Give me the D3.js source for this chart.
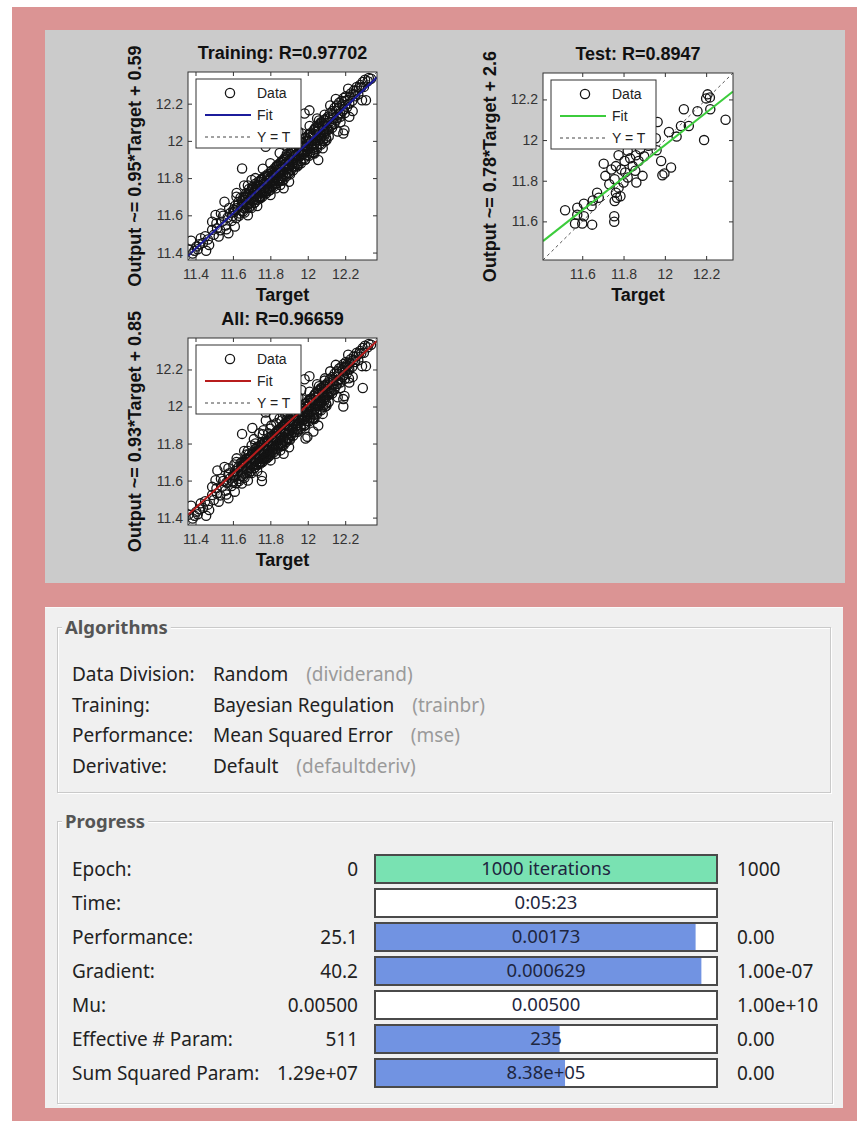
<!DOCTYPE html>
<html>
<head>
<meta charset="utf-8">
<script src="https://cdn.jsdelivr.net/npm/d3@7"></script>
<style>
  body { margin: 0; background: #fff; }
  .plot text { font-family: "Liberation Sans", Arial, sans-serif; }
  .ui text { font-family: "Noto Sans", "Open Sans", sans-serif; }
</style>
</head>
<body>
<div class="chart"></div>
<script>
// ---- regression plots ----
const plotTitles = ["Training: R=0.97702", "Test: R=0.8947", "All: R=0.96659"];
const yLabels = ["Output ~= 0.95*Target + 0.59", "Output ~= 0.78*Target + 2.6", "Output ~= 0.93*Target + 0.85"];
const xLabel = "Target";
const legendLabels = ["Data", "Fit", "Y = T"];
const fitColors = ["#1c1c9c", "#3ccc3c", "#b81c1c"];
const fitSlope = [0.95, 0.80, 0.93];
const fitIntercept = [0.59, 2.375, 0.85];
const axisLimits = [[11.36, 12.37], [11.41, 12.33], [11.36, 12.37]];
const xTicks = [[11.4, 11.6, 11.8, 12, 12.2], [11.6, 11.8, 12, 12.2], [11.4, 11.6, 11.8, 12, 12.2]];
const yTicks = [[11.4, 11.6, 11.8, 12, 12.2], [11.6, 11.8, 12, 12.2], [11.4, 11.6, 11.8, 12, 12.2]];

// [target, output]
const trainPoints = [
  [11.377,11.464],[11.362,11.415],[11.405,11.432],[11.457,11.410],[11.428,11.477],[11.489,11.522],
  [11.507,11.602],[11.489,11.566],[11.541,11.566],[11.555,11.673],[11.602,11.629],[11.576,11.504],
  [11.524,11.486],[11.610,11.540],[11.645,11.647],[11.649,11.852],[11.619,11.700],[11.385,11.395],
  [11.412,11.418],[11.440,11.452],[11.466,11.470],[11.473,11.441],[11.498,11.495],[11.515,11.530],
  [11.532,11.520],[11.548,11.598],[11.560,11.545],[11.572,11.588],[11.585,11.612],[11.593,11.570],
  [11.512,11.558],[11.536,11.610],[11.580,11.640],[11.565,11.525],[11.598,11.596],[11.452,11.488],
  [11.420,11.445],[11.395,11.410],
  [11.605,11.618],[11.612,11.652],[11.618,11.585],[11.624,11.640],[11.630,11.672],[11.636,11.610],
  [11.641,11.695],[11.645,11.625],[11.652,11.660],[11.657,11.700],[11.661,11.638],[11.668,11.682],
  [11.672,11.720],[11.676,11.655],[11.681,11.700],[11.686,11.742],[11.690,11.668],[11.694,11.716],
  [11.699,11.690],[11.703,11.752],[11.707,11.678],[11.712,11.728],[11.716,11.705],[11.720,11.770],
  [11.724,11.690],[11.729,11.742],[11.733,11.716],[11.737,11.782],[11.741,11.700],[11.746,11.756],
  [11.750,11.732],[11.754,11.796],[11.758,11.718],[11.763,11.770],[11.767,11.745],[11.771,11.810],
  [11.775,11.730],[11.780,11.785],[11.784,11.760],[11.788,11.822],[11.792,11.742],[11.797,11.800],
  [11.801,11.775],[11.805,11.838],[11.809,11.756],[11.814,11.815],[11.818,11.790],[11.822,11.852],
  [11.826,11.770],[11.831,11.830],[11.835,11.806],[11.839,11.868],[11.843,11.785],[11.848,11.846],
  [11.852,11.820],[11.856,11.882],[11.860,11.800],[11.865,11.862],[11.869,11.836],[11.873,11.898],
  [11.877,11.815],[11.882,11.876],[11.886,11.850],[11.890,11.912],[11.894,11.830],[11.899,11.892],
  [11.903,11.866],[11.907,11.928],[11.911,11.846],[11.916,11.906],[11.920,11.882],[11.924,11.944],
  [11.928,11.862],[11.933,11.922],[11.937,11.896],[11.941,11.958],[11.945,11.876],[11.950,11.938],
  [11.954,11.912],[11.958,11.972],[11.962,11.892],[11.967,11.952],[11.971,11.928],[11.975,11.988],
  [11.979,11.906],[11.984,11.968],[11.988,11.942],[11.992,12.002],[11.996,11.922],[12.001,11.984],
  [12.005,11.958],[12.009,12.018],[12.013,11.938],[12.018,11.998],[12.022,11.972],[12.026,12.034],
  [12.030,11.952],[12.035,12.014],[12.039,11.988],[12.043,12.050],[12.047,11.968],[12.052,12.030],
  [12.056,12.004],[12.060,12.064],[12.064,11.985],[12.069,12.046],[12.073,12.018],[12.077,12.080],
  [12.081,12.000],[12.086,12.060],[12.090,12.034],[12.094,12.096],[12.098,12.016],[12.103,12.076],
  [11.664,11.695],[11.683,11.660],[11.709,11.745],[11.727,11.700],[11.748,11.780],[11.769,11.728],
  [11.790,11.812],[11.811,11.780],[11.833,11.860],[11.854,11.800],[11.875,11.905],[11.896,11.855],
  [11.918,11.940],[11.939,11.880],[11.960,11.990],[11.981,11.930],[12.003,12.030],[12.024,11.960],
  [12.045,12.075],[12.066,12.010],[12.087,12.110],[11.700,11.640],[11.745,11.690],[11.790,11.730],
  [11.830,11.745],[11.870,11.790],[11.905,11.820],[11.950,11.870],[11.985,11.900],[12.030,11.935],
  [11.680,11.760],[11.720,11.800],[11.760,11.850],[11.800,11.880],[11.850,11.935],[11.890,11.970],
  [11.930,12.010],[11.970,12.040],[12.010,12.080],[12.050,12.120],
  [11.612,11.628],[11.627,11.655],[11.633,11.598],[11.648,11.676],[11.655,11.622],[11.669,11.702],
  [11.675,11.640],[11.689,11.724],[11.696,11.652],[11.705,11.712],[11.714,11.668],[11.722,11.752],
  [11.731,11.684],[11.739,11.762],[11.744,11.722],[11.752,11.790],[11.757,11.700],[11.765,11.800],
  [11.773,11.752],[11.778,11.718],[11.786,11.806],[11.794,11.770],[11.799,11.736],[11.807,11.826],
  [11.816,11.752],[11.820,11.812],[11.828,11.842],[11.837,11.772],[11.841,11.822],[11.846,11.876],
  [11.858,11.846],[11.862,11.786],[11.867,11.890],[11.879,11.860],[11.884,11.808],[11.888,11.930],
  [11.897,11.872],[11.901,11.826],[11.909,11.944],[11.914,11.888],[11.922,11.842],[11.926,11.960],
  [11.935,11.906],[11.943,11.862],[11.948,11.975],[11.956,11.926],[11.964,11.880],[11.969,11.995],
  [11.977,11.944],[11.986,11.898],[11.990,12.015],[11.998,11.962],[12.007,11.920],[12.011,12.040],
  [12.020,11.985],[12.028,11.940],[12.033,12.058],[12.041,12.004],[12.049,11.958],[12.054,12.082],
  [12.062,12.026],[12.071,11.980],[12.075,12.100],[12.084,12.046],[12.092,11.998],[12.096,12.118],
  [12.105,12.064],[12.112,12.024],[12.118,12.126],[12.124,12.096],[12.136,12.140],[12.142,12.090],
  [12.152,12.162],[12.158,12.122],[12.166,12.176],[12.172,12.148],[12.184,12.196],[12.190,12.168],
  [12.202,12.214],[12.212,12.220],[12.226,12.238],[12.244,12.252],[12.258,12.270],[12.274,12.286],
  [12.286,12.288],[12.306,12.328],[12.326,12.338],
  [11.653,11.684],[11.662,11.615],[11.671,11.668],[11.679,11.712],[11.688,11.642],[11.697,11.694],
  [11.706,11.738],[11.715,11.668],[11.723,11.720],[11.732,11.764],[11.740,11.694],[11.749,11.746],
  [11.757,11.790],[11.766,11.720],[11.774,11.771],[11.783,11.814],[11.791,11.746],[11.800,11.797],
  [11.808,11.840],[11.817,11.772],[11.825,11.822],[11.834,11.866],[11.842,11.797],[11.851,11.848],
  [11.859,11.890],[11.868,11.822],[11.876,11.873],[11.885,11.916],[11.893,11.848],[11.902,11.898],
  [11.910,11.940],[11.919,11.874],[11.927,11.924],[11.936,11.966],[11.944,11.899],[11.953,11.950],
  [11.961,11.990],[11.970,11.924],[11.978,11.975],[11.987,12.016],[11.995,11.950],[12.004,12.000],
  [12.012,12.040],[12.021,11.975],[12.029,12.026],[12.038,12.066],[12.046,12.000],[12.055,12.052],
  [12.063,12.090],[12.072,12.026],[12.080,12.076],[12.089,12.114],[12.097,12.050],
  [11.801,12.057],[11.775,11.968],[11.801,11.709],[11.749,11.700],[11.853,11.763],[11.871,11.745],
  [11.983,12.147],[12.009,12.164],[12.035,11.932],[12.056,11.897],[12.100,12.004],[12.190,12.040],
  [12.196,12.057],[12.222,12.129],[11.660,11.760],[11.700,11.790],[11.950,12.050],[11.900,11.780],
  [12.080,11.960],[11.680,11.600],[11.730,11.650],[11.620,11.720],
  [12.108,12.130],[12.114,12.100],[12.120,12.150],[12.126,12.082],[12.132,12.160],[12.138,12.120],
  [12.144,12.178],[12.150,12.110],[12.156,12.190],[12.162,12.140],[12.168,12.205],[12.174,12.130],
  [12.180,12.215],[12.186,12.160],[12.192,12.230],[12.198,12.150],[12.204,12.240],[12.210,12.180],
  [12.216,12.280],[12.222,12.200],[12.230,12.255],[12.238,12.215],[12.246,12.270],[12.254,12.240],
  [12.262,12.290],[12.270,12.250],[12.280,12.300],[12.294,12.316],[12.338,12.334],[12.311,12.218],
  [12.290,12.218],[12.240,12.160],[12.160,12.050],[12.130,12.070],[12.120,12.190],[12.150,12.225],
  [12.070,12.100],[12.090,12.140],[12.060,12.110],[12.110,12.060],[12.175,12.100],[12.200,12.190],
  [12.320,12.320],[12.300,12.290]
];

// [target, output]
const testPoints = [
  [12.207,12.225],[12.218,12.210],[12.200,12.205],[12.092,12.152],[12.158,12.142],[12.220,12.152],
  [12.294,12.100],[12.190,12.000],[12.116,12.069],[12.078,12.069],[12.020,12.040],[12.057,12.017],
  [11.965,12.089],[11.916,12.022],[11.956,12.009],[11.920,11.972],[11.960,11.950],[11.880,11.955],
  [11.820,11.947],[11.860,11.925],[11.900,11.920],[11.776,11.925],[11.704,11.884],[11.805,11.897],
  [11.763,11.872],[11.741,11.855],[11.789,11.855],[11.844,11.872],[11.982,11.897],[12.030,11.865],
  [11.998,11.836],[11.988,11.827],[11.892,11.824],[11.862,11.791],[11.820,11.816],[11.712,11.824],
  [11.757,11.807],[11.800,11.791],[11.731,11.783],[11.776,11.766],[11.672,11.741],[11.680,11.716],
  [11.651,11.703],[11.763,11.741],[11.785,11.724],[11.757,11.700],[11.768,11.716],[11.645,11.675],
  [11.608,11.687],[11.576,11.667],[11.517,11.655],[11.576,11.633],[11.608,11.625],[11.565,11.589],
  [11.600,11.589],[11.648,11.584],[11.755,11.625],[11.755,11.598],[11.832,11.910],[11.873,11.897],
  [11.808,11.841],[11.857,11.849]
];

// "All" is the union of the training and test sets
const allPoints = trainPoints.concat(testPoints);
const plotData = [trainPoints, testPoints, allPoints];

// ---- nntraintool panel ----
const algoLabels = ["Data Division:", "Training:", "Performance:", "Derivative:"];
const algoValues = ["Random", "Bayesian Regulation", "Mean Squared Error", "Default"];
const algoFns = ["(dividerand)", "(trainbr)", "(mse)", "(defaultderiv)"];

const progressLabels = ["Epoch:", "Time:", "Performance:", "Gradient:", "Mu:", "Effective # Param:", "Sum Squared Param:"];
const progressStart = ["0", "", "25.1", "40.2", "0.00500", "511", "1.29e+07"];
const progressCurrent = ["1000 iterations", "0:05:23", "0.00173", "0.000629", "0.00500", "235", "8.38e+05"];
const progressEnd = ["1000", "", "0.00", "1.00e-07", "1.00e+10", "0.00", "0.00"];
const progressFill = [1, 0, 0.94, 0.957, 0, 0.54, 0.556];
const progressColor = ["#79e2b2", "#7193e2", "#7193e2", "#7193e2", "#7193e2", "#7193e2", "#7193e2"];

let canvas = {
  svg: {},
  config: {
    svgW: 861,
    svgH: 1127,
    boxes: [
      { x: 188, y: 72, w: 189, h: 188 },
      { x: 543, y: 73, w: 190, h: 187 },
      { x: 188, y: 338, w: 189, h: 187 }
    ],
    circleR: 4.6,
    rowX: 72,
    valueX: 213,
    barX: 375,
    barW: 342,
    barH: 28,
    uiFont: 19
  },
  init: function () {
    this.svg = d3.select('.chart').append('svg')
      .attr('width', this.config.svgW)
      .attr('height', this.config.svgH);
    this.frame();
    plotData.forEach((pts, i) => this.plot(i, pts));
    this.algorithms();
    this.progress();
  },
  frame: function () {
    // pink border + the two window areas
    this.svg.append('rect').attr('x', 12).attr('y', 7).attr('width', 845).attr('height', 1114).attr('fill', '#db9494');
    this.svg.append('rect').attr('x', 45).attr('y', 30).attr('width', 800).attr('height', 553).attr('fill', '#cbcbcb');
    this.svg.append('rect').attr('x', 45).attr('y', 607).attr('width', 798).attr('height', 501).attr('fill', '#f0f0f0');
    this.svg.append('line').attr('x1', 45).attr('x2', 843).attr('y1', 607.5).attr('y2', 607.5).attr('stroke', '#fafafa');
  },
  plot: function (i, pts) {
    let box = this.config.boxes[i];
    let lim = axisLimits[i];
    let x = d3.scaleLinear().domain(lim).range([box.x, box.x + box.w]);
    let y = d3.scaleLinear().domain(lim).range([box.y + box.h, box.y]);
    let g = this.svg.append('g').attr('class', 'plot');

    g.append('clipPath').attr('id', 'clip' + i)
      .append('rect').attr('x', box.x).attr('y', box.y).attr('width', box.w).attr('height', box.h);
    g.append('rect').attr('x', box.x).attr('y', box.y).attr('width', box.w).attr('height', box.h).attr('fill', '#fff');

    let inner = g.append('g').attr('clip-path', `url(#clip${i})`);
    // data circles
    inner.selectAll('circle').data(pts).join('circle')
      .attr('cx', d => x(d[0]))
      .attr('cy', d => y(d[1]))
      .attr('r', this.config.circleR)
      .attr('fill', 'none')
      .attr('stroke', '#141414')
      .attr('stroke-width', 1.3);
    // fit line
    inner.append('line')
      .attr('x1', x(lim[0])).attr('y1', y(fitSlope[i] * lim[0] + fitIntercept[i]))
      .attr('x2', x(lim[1])).attr('y2', y(fitSlope[i] * lim[1] + fitIntercept[i]))
      .attr('stroke', fitColors[i]).attr('stroke-width', 2);
    // Y = T
    inner.append('line')
      .attr('x1', x(lim[0])).attr('y1', y(lim[0]))
      .attr('x2', x(lim[1])).attr('y2', y(lim[1]))
      .attr('stroke', '#555').attr('stroke-width', 1).attr('stroke-dasharray', '3,3');

    // axes, ticks pointing inwards on all four sides
    let fmt = d3.format('');
    let none = () => '';
    g.append('g').attr('transform', `translate(0,${box.y + box.h})`)
      .call(d3.axisBottom(x).tickValues(xTicks[i]).tickFormat(fmt).tickSizeInner(-4).tickSizeOuter(0).tickPadding(9));
    g.append('g').attr('transform', `translate(${box.x},0)`)
      .call(d3.axisLeft(y).tickValues(yTicks[i]).tickFormat(fmt).tickSizeInner(-4).tickSizeOuter(0).tickPadding(5));
    g.append('g').attr('transform', `translate(0,${box.y})`)
      .call(d3.axisTop(x).tickValues(xTicks[i]).tickFormat(none).tickSizeInner(-4).tickSizeOuter(0));
    g.append('g').attr('transform', `translate(${box.x + box.w},0)`)
      .call(d3.axisRight(y).tickValues(yTicks[i]).tickFormat(none).tickSizeInner(-4).tickSizeOuter(0));
    g.selectAll('.domain').remove();
    g.selectAll('.tick line').attr('stroke', '#333');
    g.selectAll('.tick text').attr('font-size', 14).attr('fill', '#333')
      .attr('font-family', '"Liberation Sans", Arial, sans-serif');

    g.append('rect').attr('x', box.x).attr('y', box.y).attr('width', box.w).attr('height', box.h)
      .attr('fill', 'none').attr('stroke', '#333').attr('stroke-width', 1);

    // legend
    let lx = box.x + 8, ly = box.y + 7;
    let lg = g.append('g');
    lg.append('rect').attr('x', lx).attr('y', ly).attr('width', 105).attr('height', 69)
      .attr('fill', '#fff').attr('stroke', '#333').attr('stroke-width', 1);
    lg.append('circle').attr('cx', lx + 34).attr('cy', ly + 14).attr('r', this.config.circleR)
      .attr('fill', 'none').attr('stroke', '#151515').attr('stroke-width', 1.3);
    lg.append('line').attr('x1', lx + 9).attr('x2', lx + 55).attr('y1', ly + 36).attr('y2', ly + 36)
      .attr('stroke', fitColors[i]).attr('stroke-width', 2);
    lg.append('line').attr('x1', lx + 9).attr('x2', lx + 55).attr('y1', ly + 58).attr('y2', ly + 58)
      .attr('stroke', '#444').attr('stroke-dasharray', '3,3');
    lg.selectAll('text.lab').data(legendLabels).join('text')
      .attr('class', 'lab')
      .attr('x', lx + 61)
      .attr('y', (d, k) => ly + 19 + k * 22)
      .attr('font-size', 14).attr('fill', '#222')
      .text(d => d);

    // title and labels
    let cx = box.x + box.w / 2, cy = box.y + box.h / 2;
    g.append('text').attr('x', cx).attr('y', box.y - 13).attr('text-anchor', 'middle')
      .attr('font-size', 18).attr('font-weight', 'bold').attr('fill', '#111').text(plotTitles[i]);
    g.append('text').attr('x', cx).attr('y', box.y + box.h + 41).attr('text-anchor', 'middle')
      .attr('font-size', 18).attr('font-weight', 'bold').attr('fill', '#111').text(xLabel);
    g.append('text').attr('transform', `translate(${box.x - 47},${cy}) rotate(-90)`).attr('text-anchor', 'middle')
      .attr('font-size', 18).attr('font-weight', 'bold').attr('fill', '#111').text(yLabels[i]);
  },
  groupBox: function (title, x, y, w, h) {
    let g = this.svg.append('g').attr('class', 'ui');
    g.append('rect').attr('x', x + 1.5).attr('y', y + 1.5).attr('width', w).attr('height', h)
      .attr('fill', 'none').attr('stroke', '#fff');
    g.append('rect').attr('x', x + 0.5).attr('y', y + 0.5).attr('width', w).attr('height', h)
      .attr('fill', 'none').attr('stroke', '#cacaca');
    let t = g.append('text').attr('x', x + 8).attr('y', y + 7)
      .attr('font-size', 18.5).attr('font-weight', 'bold').attr('fill', '#555').text(title);
    let tw = t.node().getComputedTextLength();
    g.insert('rect', 'text').attr('x', x + 5).attr('y', y - 4).attr('width', tw + 6).attr('height', 8).attr('fill', '#f0f0f0');
    return g;
  },
  algorithms: function () {
    let c = this.config;
    let g = this.groupBox('Algorithms', 57, 627, 773, 165);
    let rowY = k => 681 + k * 30.5;
    let rows = g.selectAll('g.row').data(algoLabels).join('g').attr('class', 'row');
    rows.append('text').attr('x', c.rowX).attr('y', (d, k) => rowY(k))
      .attr('font-size', c.uiFont).attr('fill', '#222').text(d => d);
    rows.append('text').attr('class', 'val').attr('x', c.valueX).attr('y', (d, k) => rowY(k))
      .attr('font-size', c.uiFont).attr('fill', '#222').text((d, k) => algoValues[k]);
    rows.each(function (d, k) {
      let w = d3.select(this).select('text.val').node().getComputedTextLength();
      d3.select(this).append('text').attr('x', c.valueX + w + 18).attr('y', rowY(k))
        .attr('font-size', c.uiFont).attr('fill', '#9a9a9a').text(algoFns[k]);
    });
  },
  progress: function () {
    let c = this.config;
    let g = this.groupBox('Progress', 57, 821, 775, 282);
    let fill = d3.scaleLinear().domain([0, 1]).range([0, c.barW - 2]);
    let rowY = k => 869 + k * 34;
    let rows = g.selectAll('g.row').data(progressLabels).join('g').attr('class', 'row');
    rows.append('text').attr('x', c.rowX).attr('y', (d, k) => rowY(k) + 7)
      .attr('font-size', c.uiFont).attr('fill', '#222').text(d => d);
    rows.append('text').attr('x', 358).attr('y', (d, k) => rowY(k) + 7).attr('text-anchor', 'end')
      .attr('font-size', c.uiFont).attr('fill', '#222').text((d, k) => progressStart[k]);
    rows.append('rect').attr('x', c.barX).attr('y', (d, k) => rowY(k) - c.barH / 2)
      .attr('width', c.barW).attr('height', c.barH).attr('fill', '#fff');
    rows.append('rect').attr('x', c.barX + 1).attr('y', (d, k) => rowY(k) - c.barH / 2)
      .attr('width', (d, k) => fill(progressFill[k])).attr('height', c.barH)
      .attr('fill', (d, k) => progressColor[k]);
    rows.append('rect').attr('x', c.barX).attr('y', (d, k) => rowY(k) - c.barH / 2)
      .attr('width', c.barW).attr('height', c.barH)
      .attr('fill', 'none').attr('stroke', '#4a4a4a').attr('stroke-width', 2);
    rows.append('text').attr('x', c.barX + c.barW / 2).attr('y', (d, k) => rowY(k) + 6).attr('text-anchor', 'middle')
      .attr('font-size', 18.5).attr('fill', '#1e2640').text((d, k) => progressCurrent[k]);
    rows.append('text').attr('x', 737).attr('y', (d, k) => rowY(k) + 7)
      .attr('font-size', c.uiFont).attr('fill', '#222').text((d, k) => progressEnd[k]);
  }
};

canvas.init();
</script>
</body>
</html>
